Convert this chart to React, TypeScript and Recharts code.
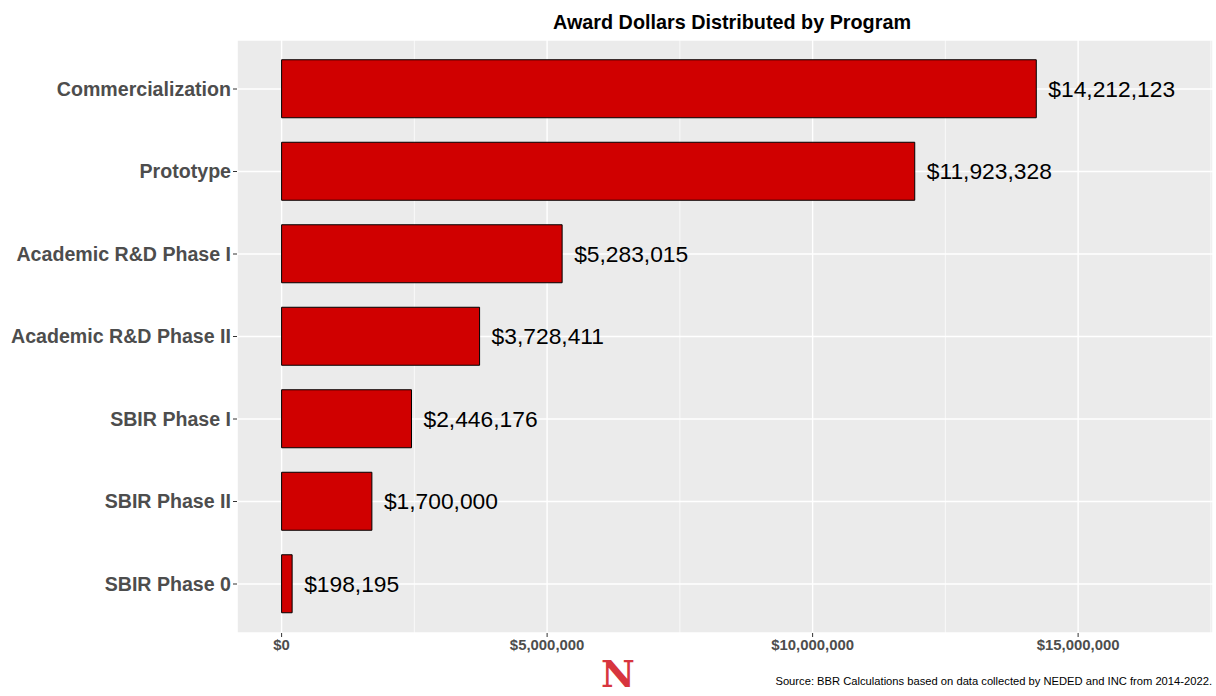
import React from 'react';
import { BarChart, Bar, XAxis, YAxis, CartesianGrid, LabelList } from 'recharts';

const programs = [
  'Commercialization',
  'Prototype',
  'Academic R&D Phase I',
  'Academic R&D Phase II',
  'SBIR Phase I',
  'SBIR Phase II',
  'SBIR Phase 0',
];
const awards = [14212123, 11923328, 5283015, 3728411, 2446176, 1700000, 198195];
const majorTicks = [0, 5000000, 10000000, 15000000];
const minorTicks = [2500000, 7500000, 12500000, 17500000];
const xDomain = [-840000, 17540000];

const data = programs.map((p, i) => ({ program: p, value: awards[i] }));

const FONT = '"Liberation Sans", Arial, Helvetica, sans-serif';
const dollar = (v: number) => '$' + Number(v).toLocaleString('en-US');

export default function App() {
  return (
    <div style={{ position: 'absolute', left: 0, top: 0, width: 1216, height: 696, background: '#fff', fontFamily: FONT, overflow: 'hidden' }}>
      <div style={{ position: 'absolute', left: 244, width: 976, top: 13, textAlign: 'center', fontSize: 19.8, fontWeight: 'bold', color: '#000', lineHeight: 1 }}>
        Award Dollars Distributed by Program
      </div>
      <BarChart
        width={1216}
        height={696}
        data={data}
        layout="vertical"
        margin={{ top: 40, right: 3, bottom: 0, left: 0 }}
        barCategoryGap={0}
      >
        <CartesianGrid fill="#EBEBEB" stroke="#FFFFFF" strokeWidth={1.4} />
        <CartesianGrid xAxisId="minor" horizontal={false} stroke="#FFFFFF" strokeWidth={0.7} />
        <XAxis
          type="number"
          domain={xDomain}
          allowDataOverflow
          ticks={majorTicks}
          tickFormatter={dollar}
          height={63}
          tickSize={4}
          tickMargin={2}
          axisLine={false}
          tickLine={{ stroke: '#333333' }}
          tick={{ fontSize: 14.9, fontWeight: 'bold', fill: '#4D4D4D', fontFamily: FONT }}
        />
        <XAxis
          xAxisId="minor"
          type="number"
          domain={xDomain}
          allowDataOverflow
          ticks={minorTicks}
          hide
        />
        <YAxis
          type="category"
          dataKey="program"
          width={237}
          padding={{ top: 7.75, bottom: 7.75 }}
          tickSize={4}
          tickMargin={2}
          axisLine={false}
          tickLine={{ stroke: '#333333' }}
          tick={{ fontSize: 19.6, fontWeight: 'bold', fill: '#4D4D4D', fontFamily: FONT }}
        />
        <Bar dataKey="value" fill="#D00000" stroke="#000000" strokeWidth={1} barSize={58} isAnimationActive={false}>
          <LabelList
            dataKey="value"
            position="right"
            offset={12}
            formatter={(v: any) => dollar(v)}
            style={{ fontSize: 22.8, fill: '#000', fontFamily: FONT }}
          />
        </Bar>
      </BarChart>
      <div style={{ position: 'absolute', left: 601, top: 652, fontFamily: '"DejaVu Serif", serif', fontWeight: 'bold', fontSize: 37, color: '#D7353E', lineHeight: 'normal' }}>
        N
      </div>
      <div style={{ position: 'absolute', right: 4, top: 675, fontSize: 11.2, color: '#000' }}>
        Source: BBR Calculations based on data collected by NEDED and INC from 2014-2022.
      </div>
    </div>
  );
}
